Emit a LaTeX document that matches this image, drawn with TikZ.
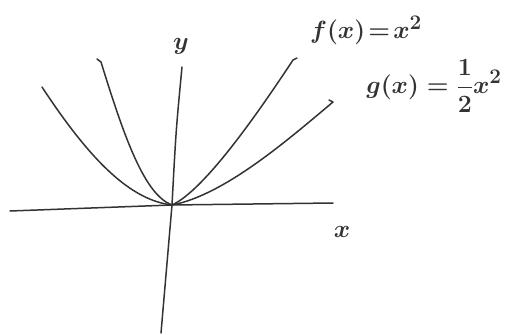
\documentclass[tikz,border=0pt]{standalone}
\begin{document}
\begin{tikzpicture}[x=1pt,y=-1pt,
  pen/.style={draw=black!80, line width=1.5pt, line cap=round, line join=round},
  lbl/.style={text=black!80, inner sep=0pt, font=\fontsize{28}{32}\selectfont\boldmath}]
\useasboundingbox (0,0) rectangle (528,335);
\coordinate (O) at (172,205);
% axes
\coordinate (xl) at (10,211);
\coordinate (xr) at (333,203);
\coordinate (yt) at (182,67);
\coordinate (yb) at (161,333);
\draw[pen] (xl) -- (O) -- (xr);
\draw[pen] (yt) .. controls (176,130) .. (O) -- (yb);
% curves
\coordinate (a) at (42,87);
\coordinate (b) at (101,62);
\coordinate (f) at (293,60);
\coordinate (g) at (333,102);
\draw[pen] (a) .. controls (90,160) and (130,200) .. (O);
\draw[pen] (97,59) -- (b) .. controls (125,140) and (145,195) .. (O);
\draw[pen] (O) .. controls (205,190) and (260,110) .. (f) -- (297,58);
\draw[pen] (O) .. controls (225,195) and (290,138) .. (g) -- (329,100);
% labels
\node[lbl] (ylab) at (181,46) {$y$};
\node[lbl] (xlab) at (342,232) {$x$};
\node[lbl] (flab) at (366,30) {$f(x)\!=\!x^2$};
\node[lbl] (glab) at (434,86) {$g(x)=\displaystyle\frac{1}{2}x^2$};
\end{tikzpicture}
\end{document}
